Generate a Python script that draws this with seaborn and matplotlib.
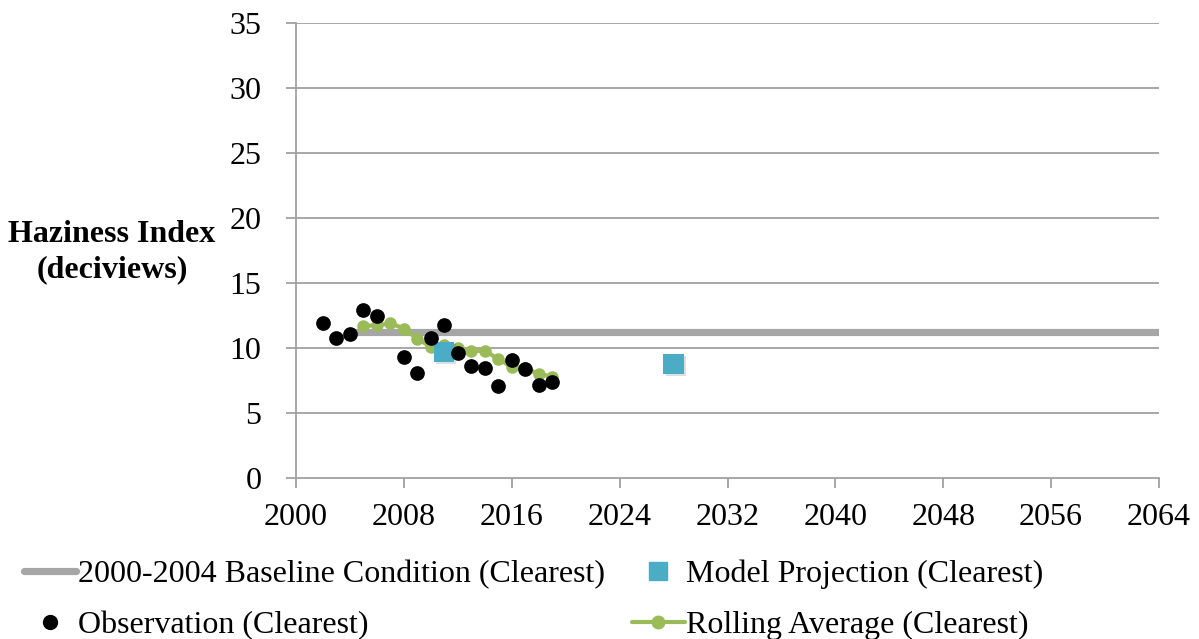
import matplotlib
matplotlib.use("Agg")
import matplotlib.pyplot as plt
import seaborn as sns
import pandas as pd
from matplotlib.lines import Line2D
import matplotlib.patheffects as pe

obs_years = [2002, 2003, 2004, 2005, 2006, 2008, 2009, 2010, 2011, 2012, 2013, 2014, 2015, 2016, 2017, 2018, 2019]
obs_values = [11.9, 10.8, 11.1, 12.95, 12.5, 9.3, 8.1, 10.8, 11.75, 9.6, 8.6, 8.5, 7.05, 9.05, 8.4, 7.15, 7.4]

roll_years = [2005, 2006, 2007, 2008, 2009, 2010, 2011, 2012, 2013, 2014, 2015, 2016, 2017, 2018, 2019]
roll_values = [11.7, 11.75, 11.9, 11.5, 10.7, 10.1, 10.2, 10.0, 9.75, 9.8, 9.15, 8.55, 8.45, 8.0, 7.8]

base_years = [2004, 2064]
base_values = [11.25, 11.25]

proj_years = [2011, 2028]
proj_values = [9.7, 8.8]

labels = ["2000-2004 Baseline Condition (Clearest)", "Model Projection (Clearest)",
          "Observation (Clearest)", "Rolling Average (Clearest)"]
xticks = list(range(2000, 2065, 8))
yticks = list(range(0, 36, 5))

sns.set_theme(style="white")
plt.rcParams['font.family'] = ['Liberation Serif', 'DejaVu Serif']
plt.rcParams['text.color'] = 'black'

fig = plt.figure(figsize=(11.99, 6.39), dpi=100)
ax = fig.add_axes([296/1199, 1-478/639, (1159-296)/1199, (478-23)/639])

grid_c = '#A0A0A0'
for y in yticks[1:]:
    ax.axhline(y, color=grid_c, lw=1.3, zorder=0)

sns.lineplot(x=base_years, y=base_values, ax=ax, color='#A6A6A6', lw=5.2,
             solid_capstyle='butt', zorder=2)
sns.lineplot(x=roll_years, y=roll_values, ax=ax, color='#9BBB59', lw=3,
             marker='o', markersize=9, markeredgewidth=0, zorder=3)
sns.scatterplot(x=proj_years, y=proj_values, ax=ax, color='#4BACC6', marker='s',
                s=210, linewidth=0, zorder=4,
                path_effects=[pe.SimplePatchShadow(offset=(1.5, -1.5), alpha=0.15), pe.Normal()])
sns.scatterplot(x=obs_years, y=obs_values, ax=ax, color='black', s=112,
                linewidth=0, zorder=5)

ax.set_xlim(2000, 2064)
ax.set_ylim(0, 35)
ax.set_xticks(xticks)
ax.set_yticks(yticks)
ax.tick_params(axis='both', labelsize=23, length=7, width=1.3, color=grid_c,
               labelcolor='black', direction='out', bottom=True, left=True)
ax.tick_params(axis='x', pad=11)
ax.tick_params(axis='y', pad=18)
for s in ['top', 'right']:
    ax.spines[s].set_visible(False)
for s in ['left', 'bottom']:
    ax.spines[s].set_color(grid_c)
    ax.spines[s].set_linewidth(1.3)
ax.set_xlabel('')
ax.set_ylabel('')

fig.text(112/1199, 1-252/639, "Haziness Index\n(deciviews)", ha='center', va='center',
         fontsize=23, fontweight='bold', linespacing=1.3)

handles = [
    Line2D([0], [0], color='#A6A6A6', lw=5.2, solid_capstyle='round'),
    Line2D([0], [0], marker='o', color='black', lw=0, markersize=10),
    Line2D([0], [0], marker='s', color='#4BACC6', lw=0, markersize=13),
    Line2D([0], [0], color='#9BBB59', lw=3, marker='o', markersize=9),
]
hl = [labels[0], labels[2], labels[1], labels[3]]
fig.legend(handles, hl, loc='lower left', bbox_to_anchor=(0.009, -0.022), ncol=2,
           fontsize=23, frameon=False, handlelength=1.65, handletextpad=0.05,
           columnspacing=0.85, labelspacing=0.68, borderaxespad=0)

fig.savefig('out.png', dpi=100)
